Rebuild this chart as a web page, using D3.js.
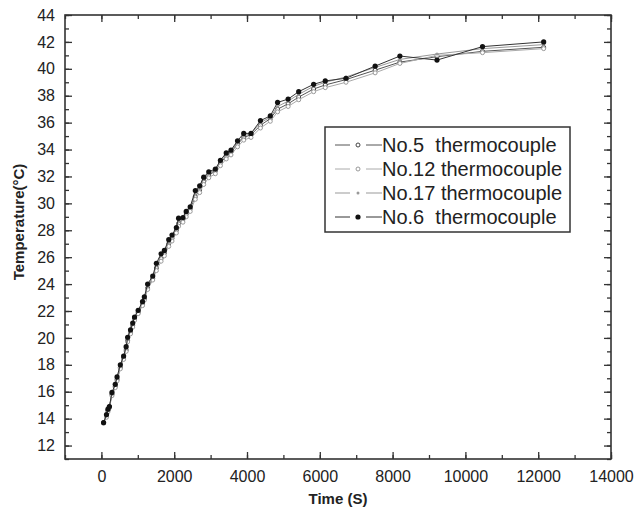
<!DOCTYPE html>
<html>
  <head>
    <script src="https://d3js.org/d3.v7.min.js"></script>
    <style>
      body { margin: 0; background: #fff; }
      text { font-family: "Liberation Sans", Arial, sans-serif; fill: #222; }
    </style>
  </head>
  <body>
<script type="text/javascript">
var width = 636, height = 513;
var margin = {top: 15, right: 25, bottom: 54, left: 65};

// sample times (s)
var times = [60, 140, 180, 220, 290, 380, 430, 520, 610, 680, 720, 800, 860, 910, 1010, 1130, 1180, 1270, 1410, 1510,
  1640, 1730, 1850, 1940, 2060, 2120, 2240, 2330, 2440, 2580, 2700, 2810, 2950, 3130, 3270, 3430, 3560, 3740, 3910, 4110,
  4370, 4640, 4840, 5130, 5420, 5830, 6150, 6720, 7520, 8200, 9220, 10470, 12150];

var no5 = [13.7, 14.2, 14.6, 14.9, 15.8, 16.4, 16.9, 17.8, 18.5, 19.1, 19.8, 20.4, 20.9, 21.4, 21.9, 22.5, 22.9, 23.7, 24.4, 25.2,
  25.9, 26.3, 27.0, 27.4, 28.0, 28.5, 28.8, 29.2, 29.6, 30.5, 31.0, 31.6, 32.1, 32.4, 33.0, 33.5, 33.8, 34.4, 34.9, 35.1,
  35.8, 36.3, 37.0, 37.4, 37.9, 38.5, 38.8, 39.2, 39.9, 40.5, 40.9, 41.3, 41.6];
var no12 = [13.7, 14.1, 14.5, 14.8, 15.7, 16.3, 16.8, 17.7, 18.4, 19.0, 19.7, 20.3, 20.8, 21.3, 21.8, 22.4, 22.8, 23.6, 24.3, 25.0,
  25.7, 26.1, 26.8, 27.2, 27.8, 28.3, 28.6, 29.0, 29.4, 30.3, 30.8, 31.4, 31.9, 32.2, 32.8, 33.3, 33.6, 34.2, 34.7, 34.9,
  35.6, 36.1, 36.8, 37.2, 37.7, 38.3, 38.6, 39.0, 39.7, 40.4, 41.0, 41.2, 41.5];
var no17 = [13.7, 14.2, 14.6, 14.9, 15.8, 16.5, 17.0, 17.9, 18.6, 19.2, 19.9, 20.5, 21.0, 21.5, 22.0, 22.6, 23.0, 23.8, 24.5, 25.4,
  26.1, 26.4, 27.1, 27.5, 28.1, 28.7, 28.9, 29.3, 29.7, 30.7, 31.1, 31.8, 32.2, 32.5, 33.1, 33.6, 33.9, 34.5, 35.0, 35.2,
  36.0, 36.4, 37.2, 37.6, 38.1, 38.7, 39.0, 39.4, 40.1, 40.7, 41.1, 41.5, 41.8];
var no6 = [13.7, 14.3, 14.7, 14.9, 15.95, 16.55, 17.1, 18.0, 18.65, 19.35, 20.05, 20.6, 21.1, 21.55, 22.05, 22.7, 23.05, 24.0, 24.6, 25.55,
  26.25, 26.5, 27.3, 27.65, 28.2, 28.9, 28.95, 29.4, 29.75, 30.95, 31.3, 31.95, 32.35, 32.55, 33.2, 33.75, 33.95, 34.65, 35.2, 35.2,
  36.15, 36.5, 37.5, 37.75, 38.3, 38.85, 39.1, 39.3, 40.2, 40.95, 40.65, 41.65, 42.0];

var seriesNames = ['No.5  thermocouple', 'No.12 thermocouple', 'No.17 thermocouple', 'No.6  thermocouple'];
var xTicks = [0, 2000, 4000, 6000, 8000, 10000, 12000, 14000];
var yTicks = [12, 14, 16, 18, 20, 22, 24, 26, 28, 30, 32, 34, 36, 38, 40, 42, 44];

var series = [
  {name: seriesNames[0], values: no5, stroke: '#555', marker: 'open', mcolor: '#444', r: 2},
  {name: seriesNames[1], values: no12, stroke: '#aaa', marker: 'open', mcolor: '#999', r: 2},
  {name: seriesNames[2], values: no17, stroke: '#999', marker: 'dot', mcolor: '#999', r: 1.5},
  {name: seriesNames[3], values: no6, stroke: '#333', marker: 'fill', mcolor: '#111', r: 2.6}
];

var svg = d3.select('body').append('svg')
    .attr('width', width)
    .attr('height', height);

var x = d3.scaleLinear().domain([-1000, 14000]).range([margin.left, width - margin.right]);
var y = d3.scaleLinear().domain([11, 44]).range([height - margin.bottom, margin.top]);

var minorX = d3.range(-1000, 14001, 1000);
var minorY = d3.range(11, 45, 1);

function styleAxis(g) {
  g.select('.domain').remove();
  g.selectAll('.tick line').attr('stroke', '#333').attr('stroke-width', 1.3);
  g.selectAll('.tick text').attr('font-size', 16).attr('fill', '#222');
}

// bottom
svg.append('g').attr('transform', 'translate(0,' + y.range()[0] + ')')
    .call(d3.axisBottom(x).tickValues(minorX).tickSize(-4).tickFormat(''))
    .call(styleAxis);
svg.append('g').attr('transform', 'translate(0,' + y.range()[0] + ')')
    .call(d3.axisBottom(x).tickValues(xTicks).tickSize(-7).tickPadding(12).tickFormat(d3.format('d')))
    .call(styleAxis);
// top
svg.append('g').attr('transform', 'translate(0,' + y.range()[1] + ')')
    .call(d3.axisTop(x).tickValues(minorX).tickSize(-4).tickFormat(''))
    .call(styleAxis);
svg.append('g').attr('transform', 'translate(0,' + y.range()[1] + ')')
    .call(d3.axisTop(x).tickValues(xTicks).tickSize(-7).tickFormat(''))
    .call(styleAxis);
// left
svg.append('g').attr('transform', 'translate(' + x.range()[0] + ',0)')
    .call(d3.axisLeft(y).tickValues(minorY).tickSize(-4).tickFormat(''))
    .call(styleAxis);
svg.append('g').attr('transform', 'translate(' + x.range()[0] + ',0)')
    .call(d3.axisLeft(y).tickValues(yTicks).tickSize(-7).tickPadding(10).tickFormat(d3.format('d')))
    .call(styleAxis);
// right
svg.append('g').attr('transform', 'translate(' + x.range()[1] + ',0)')
    .call(d3.axisRight(y).tickValues(minorY).tickSize(-4).tickFormat(''))
    .call(styleAxis);
svg.append('g').attr('transform', 'translate(' + x.range()[1] + ',0)')
    .call(d3.axisRight(y).tickValues(yTicks).tickSize(-7).tickFormat(''))
    .call(styleAxis);

// frame
svg.append('rect')
    .attr('x', x.range()[0]).attr('y', y.range()[1])
    .attr('width', x.range()[1] - x.range()[0])
    .attr('height', y.range()[0] - y.range()[1])
    .attr('fill', 'none').attr('stroke', '#333').attr('stroke-width', 1.6);

// axis titles
svg.append('text')
    .attr('x', (x.range()[0] + x.range()[1]) / 2).attr('y', 504)
    .attr('text-anchor', 'middle').attr('font-size', 15).attr('font-weight', 'bold')
    .text('Time (S)');
svg.append('text')
    .attr('transform', 'translate(24,222) rotate(-90)')
    .attr('text-anchor', 'middle').attr('font-size', 15).attr('font-weight', 'bold')
    .text('Temperature(°C)');

function drawMarker(sel, s) {
  if (s.marker === 'fill') {
    sel.append('circle').attr('r', s.r).attr('fill', s.mcolor);
  } else if (s.marker === 'open') {
    sel.append('circle').attr('r', s.r).attr('fill', '#fff').attr('stroke', s.mcolor).attr('stroke-width', 1);
  } else {
    sel.append('circle').attr('r', s.r).attr('fill', s.mcolor);
  }
}

var line = d3.line()
    .x(function(d) { return x(d[0]); })
    .y(function(d) { return y(d[1]); });

series.forEach(function(s) {
  var pts = times.map(function(t, i) { return [t, s.values[i]]; });
  svg.append('path')
      .datum(pts)
      .attr('d', line)
      .attr('fill', 'none')
      .attr('stroke', s.stroke)
      .attr('stroke-width', 1);
  svg.append('g')
      .selectAll('g')
      .data(pts)
      .enter()
      .append('g')
      .attr('transform', function(d) { return 'translate(' + x(d[0]) + ',' + y(d[1]) + ')'; })
      .each(function() { drawMarker(d3.select(this), s); });
});

// legend
var lg = svg.append('g');
lg.append('rect')
    .attr('x', 325).attr('y', 127).attr('width', 245).attr('height', 105)
    .attr('fill', '#fff').attr('stroke', '#333').attr('stroke-width', 1.5);
series.forEach(function(s, i) {
  var yy = 145 + i * 24;
  var row = lg.append('g');
  row.append('line').attr('x1', 335).attr('x2', 350).attr('y1', yy).attr('y2', yy)
      .attr('stroke', s.stroke).attr('stroke-width', 1);
  row.append('line').attr('x1', 366).attr('x2', 382).attr('y1', yy).attr('y2', yy)
      .attr('stroke', s.stroke).attr('stroke-width', 1);
  drawMarker(row.append('g').attr('transform', 'translate(358,' + yy + ')'), s);
  row.append('text')
      .attr('x', 382).attr('y', yy + 7)
      .attr('font-size', 20)
      .style('white-space', 'pre')
      .text(s.name);
});
</script>
  </body>
</html>
